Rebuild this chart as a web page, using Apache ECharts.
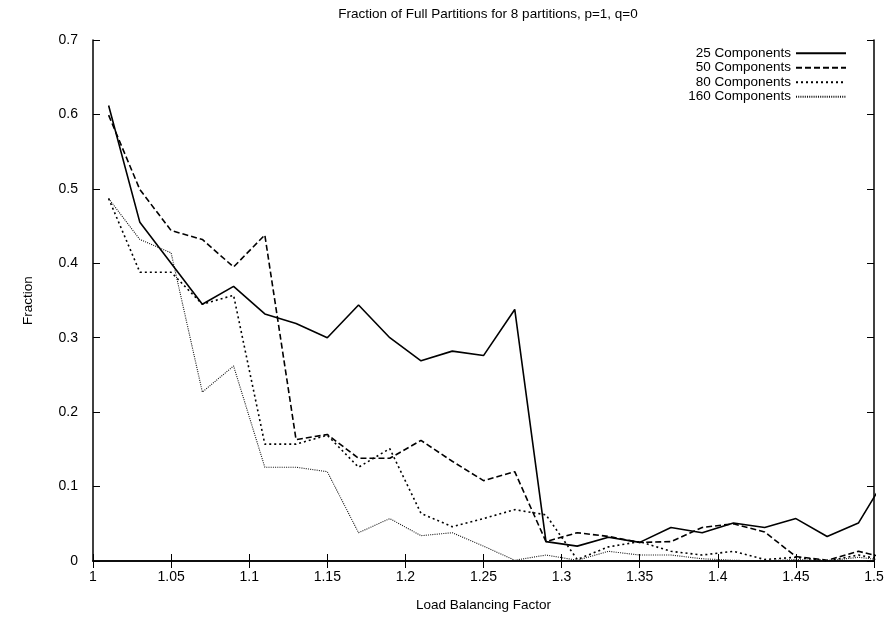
<!DOCTYPE html>
<html>
<head>
<meta charset="utf-8">
<script src="https://cdn.jsdelivr.net/npm/echarts@6/dist/echarts.min.js"></script>
<style>
html,body{margin:0;padding:0;background:#fff;}
#chart{width:891px;height:618px;}
</style>
</head>
<body>
<div id="chart"></div>
<script>
var xValues = [1.01,1.03,1.05,1.07,1.09,1.11,1.13,1.15,1.17,1.19,1.21,1.23,1.25,1.27,1.29,1.31,1.33,1.35,1.37,1.39,1.41,1.43,1.45,1.47,1.49,1.51];
var s25  = [0.612,0.455,0.400,0.345,0.369,0.332,0.319,0.300,0.344,0.300,0.269,0.282,0.276,0.338,0.026,0.020,0.032,0.025,0.045,0.038,0.051,0.045,0.057,0.033,0.051,0.120];
var s50  = [0.599,0.499,0.444,0.432,0.395,0.438,0.163,0.170,0.138,0.138,0.162,0.134,0.108,0.120,0.026,0.038,0.033,0.025,0.026,0.045,0.050,0.039,0.006,0.001,0.013,0.003];
var s80  = [0.487,0.388,0.388,0.345,0.357,0.157,0.157,0.169,0.126,0.151,0.064,0.046,0.057,0.069,0.062,0.002,0.019,0.026,0.013,0.008,0.013,0.002,0.005,0.000,0.008,0.000];
var s160 = [0.487,0.432,0.414,0.227,0.262,0.126,0.126,0.120,0.038,0.057,0.034,0.038,0.020,0.001,0.008,0.001,0.013,0.008,0.008,0.003,0.001,0.000,0.002,0.000,0.005,0.000];
var seriesNames = ['25 Components','50 Components','80 Components','160 Components'];
var chartTitle = 'Fraction of Full Partitions for 8 partitions, p=1, q=0';
var xLabel = 'Load Balancing Factor';
var yLabel = 'Fraction';

function pairs(ys){ return ys.map(function(y,i){ return [xValues[i], y]; }); }

var font = 'Liberation Sans, Arial, Helvetica, sans-serif';
var chart = echarts.init(document.getElementById('chart'), null, {renderer:'canvas'});

var styles = [
  {color:'#000', width:1.6, type:'solid'},
  {color:'#000', width:1.6, type:[6,3]},
  {color:'#000', width:1.6, type:[2,3]},
  {color:'#111', width:1.1, type:[1,1.2]}
];
var datas = [s25, s50, s80, s160];

var series = datas.map(function(d,i){
  return {
    name: seriesNames[i], type:'line', xAxisIndex:0, yAxisIndex:0,
    data: pairs(d), symbol:'none', showSymbol:false, clip:true, animation:false,
    lineStyle: styles[i], itemStyle:{color:styles[i].color}
  };
});

var common = {
  axisLine:{show:true, lineStyle:{color:'#000', width:1.5}},
  splitLine:{show:false}
};

chart.setOption({
  backgroundColor:'#fff',
  animation:false,
  title:{
    text: chartTitle, left: 483, top: 2, textAlign:'center',
    textStyle:{fontFamily:font, fontSize:13.5, fontWeight:'normal', color:'#000'}
  },
  legend:{
    data: seriesNames, orient:'vertical', right:39, top:41, align:'right',
    itemWidth:50, itemHeight:12, itemGap:0,
    itemStyle:{opacity:0},
    textStyle:{fontFamily:font, fontSize:13.5, color:'#000', lineHeight:14.5}
  },
  grid:{left:93, right:17, top:40, bottom:57, containLabel:false},
  xAxis:[
    Object.assign({
      type:'value', min:1, max:1.5, interval:0.05,
      name: xLabel, nameLocation:'middle', nameGap:37,
      nameTextStyle:{fontFamily:font, fontSize:13.5, color:'#000'},
      axisTick:{show:true, inside:true, length:7, lineStyle:{color:'#000', width:1}},
      axisLabel:{fontFamily:font, fontSize:14, color:'#000', margin:9,
        formatter:function(v){ return String(+v.toFixed(2)); }}
    }, common),
    Object.assign({
      type:'value', min:1, max:1.5, interval:0.05, position:'top',
      axisTick:{show:true, inside:true, length:7, lineStyle:{color:'#000', width:1}},
      axisLabel:{show:false}
    }, common)
  ],
  yAxis:[
    Object.assign({
      type:'value', min:0, max:0.7, interval:0.1,
      name: yLabel, nameLocation:'middle', nameGap:58,
      nameTextStyle:{fontFamily:font, fontSize:13.5, color:'#000'},
      axisTick:{show:true, inside:true, length:7, lineStyle:{color:'#000', width:1}},
      axisLabel:{fontFamily:font, fontSize:14, color:'#000', margin:15,
        formatter:function(v){ return String(+v.toFixed(2)); }}
    }, common),
    Object.assign({
      type:'value', min:0, max:0.7, interval:0.1, position:'right',
      axisTick:{show:true, inside:true, length:7, lineStyle:{color:'#000', width:1}},
      axisLabel:{show:false}
    }, common)
  ],
  series: series
});
</script>
</body>
</html>
